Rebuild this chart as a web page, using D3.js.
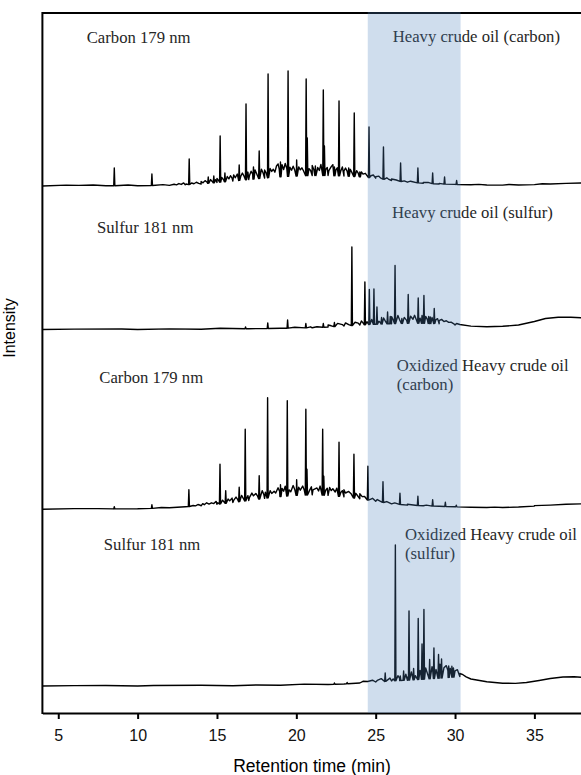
<!DOCTYPE html>
<html>
<head>
<meta charset="utf-8">
<script src="https://cdn.jsdelivr.net/npm/d3@7"></script>
<style>
body { margin: 0; background: #fff; }
</style>
</head>
<body>
<svg id="chart" width="581" height="775"></svg>
<script>
// retention time ticks (min) and highlighted window
var xTicks = [5, 10, 15, 20, 25, 30, 35];
var bandRange = [24.5, 30.35];

// --- trace 1: heavy crude oil, carbon 179 nm ---
// baseline drift [time, intensity]
var c1Base = [[4,0],[8,0.2],[10,0.3],[12,0.6],[13,1.2],[14,2],[15,3.5],[16,5],[17,6.5],[18,8],[19,9.3],[20,10],
  [21,10.5],[22,10.5],[23,10],[24,9.2],[25,7.8],[26,5.5],[27,3.8],[28,2.8],[29,2],[30,1.6],[31,1.2],[32,1],
  [33,0.9],[34,1],[35,1.4],[36,2],[37,2.6],[38,3]];
// peak apex [time, intensity]
var c1Peaks = [[8.53,18],[10.9,12],[13.25,27],[14.45,9],[14.8,10],[15.2,50],[15.5,13],[16.4,21],[16.83,82],
  [17.3,19],[17.66,35],[18.22,112],[19.0,24],[19.48,115],[20.02,26],[20.62,107],[20.69,48],[21.2,20],
  [21.7,96],[21.77,40],[22.4,19],[22.69,85],[23.3,18],[23.65,73],[24.0,14],[24.58,59],[25.49,39],
  [26.57,23],[27.66,18],[28.59,13],[29.34,9],[30.1,5.5]];
// small unresolved signal [time, height above baseline]
var c1Grass = [[5.5,0.8],[6.3,0.5],[7.2,0.8],[9.4,0.7],[11.6,0.8],[12.3,1],[12.45,0.3],[12.6,1.5],[12.75,0.5],
  [12.9,2],[13.05,0.8],[13.4,1.5],[13.55,0.6],[13.7,2],[13.85,0.8],[14.0,2.5],[14.12,1],[14.25,3],[14.38,1.2],
  [14.6,3.5],[14.7,1.5],[14.9,3],[15.0,4],[15.1,2],[15.3,4.5],[15.42,2],[15.65,5],[15.75,2.5],[15.85,5.5],
  [15.95,3],[16.05,6],[16.15,3],[16.28,6.5],[16.5,4],[16.6,7],[16.7,4],[16.95,7.5],[17.05,4],[17.15,8],
  [17.25,5],[17.4,9],[17.5,5],[17.8,9],[17.9,5.5],[18.0,8],[18.1,5],[18.35,9],[18.45,6],[18.55,8],[18.65,5],
  [18.75,11],[18.85,13],[18.92,8],[19.1,12],[19.2,7],[19.3,13],[19.4,8],[19.6,9],[19.7,6],[19.8,10],[19.9,6],
  [20.15,9],[20.25,6],[20.35,8],[20.45,5],[20.8,7],[20.9,5],[21.0,10],[21.1,6],[21.35,8],[21.45,5],[21.55,11],
  [21.85,6],[21.95,8],[22.05,5],[22.2,9],[22.3,11],[22.5,6],[22.58,8],[22.8,5],[22.9,9],[23.0,5],[23.1,8],
  [23.2,5],[23.4,7],[23.5,4],[23.8,6],[23.9,3.5],[24.1,5],[24.2,3],[24.35,4],[24.7,2],[24.85,3],[25.0,1.5],
  [25.2,2.5],[25.3,1],[25.7,2],[25.8,1],[26.0,1.5],[26.3,1],[26.8,1],[27.2,1.2],[28.0,0.8],[28.3,1],[29.0,0.6],
  [31.5,0.5],[33.4,0.6],[35.5,0.5]];

// --- trace 2: heavy crude oil, sulfur 181 nm ---
var c2Base = [[4,0],[10,0],[14,0.3],[17,0.8],[19,1.2],[21,1.7],[22,2.5],[23,3.5],[24,4.5],[25,5.2],[26,5.8],
  [27,6.2],[28,6.2],[29,5.8],[30,4.6],[31,3.4],[32,2.8],[33,3.2],[34,4.5],[35,8],[35.7,11],[36.5,12.3],
  [37.3,12.3],[38,11.7]];
var c2Peaks = [[16.8,2.5],[18.2,6.5],[19.45,9.5],[20.6,6],[21.7,6],[22.4,7],[23.5,82.5],[24.32,47.5],
  [24.6,40],[24.89,40.5],[25.08,22.5],[25.37,12],[25.75,17.5],[25.92,13],[26.22,64],[26.65,11],[27.05,35],
  [27.68,31.5],[27.92,14],[28.04,34],[28.34,13],[28.44,12.5],[28.69,21]];
var c2Grass = [[6,0.4],[9,0.5],[12,0.5],[15.2,0.7],[19.9,0.8],[20.9,1],[21.3,0.8],[22.0,2],[22.2,1],[22.6,3],
  [22.9,1.5],[23.1,3],[23.3,1],[23.7,3],[23.9,2],[24.1,4],[24.2,2],[24.45,3],[24.75,5],[25.2,3],[25.3,1.5],
  [25.5,6],[25.6,3],[26.0,7],[26.1,4],[26.4,8],[26.5,4],[26.8,6],[26.95,3],[27.2,7],[27.35,4],[27.45,8],
  [27.55,4],[27.8,5],[28.15,7],[28.25,4],[28.55,6],[28.8,4],[28.9,5],[29.0,3],[29.15,4.5],[29.3,2.5],
  [29.45,3.5],[29.6,2],[29.75,2.5],[29.9,1.2],[30.1,1.5],[30.3,0.8]];

// --- trace 3: oxidized heavy crude oil, carbon 179 nm ---
var c3Base = [[4,0],[10,0.5],[12,1.5],[13,2.5],[14,3.5],[15,5],[16,6.8],[17,8.8],[18,11],[19,12.8],[20,14],
  [21,14.5],[22,14],[23,12.5],[24,10.5],[25,8],[26,5.5],[27,4.2],[28,3.5],[29,3],[30,2.5],[31,2],[32,1.8],
  [33,1.8],[34,2.3],[35,3.2],[36,4.2],[37,5],[38,5.5]];
var c3Peaks = [[8.53,2.5],[10.9,4.5],[13.23,19.5],[15.19,45],[15.55,18.5],[16.4,22],[16.78,80],[17.66,33.5],
  [18.19,111.5],[19.0,24.5],[19.43,108.5],[20.02,29.5],[20.6,100],[20.67,40],[21.66,80],[21.73,33],
  [22.69,67],[23.63,55],[24.51,43],[25.46,27.5],[26.53,16],[27.66,13],[28.59,9.5],[29.39,7],[30.08,4.2]];
var c3Grass = [[6,0.5],[7.5,0.4],[11.5,0.6],[13.5,0.8],[13.65,0.3],[13.8,1.5],[13.95,0.6],[14.1,2],
  [14.2,0.8],[14.35,2.5],[14.5,1],[14.65,2],[14.8,1],[14.95,3],[15.05,1.5],[15.35,3.5],[15.45,1.5],[15.7,4],
  [15.8,2],[15.95,4.5],[16.05,2],[16.2,5],[16.3,2.5],[16.55,6],[16.65,3],[16.95,5],[17.05,3],[17.2,7],
  [17.3,4],[17.45,6],[17.55,3.5],[17.85,8],[17.95,4],[18.05,6],[18.35,7],[18.45,4],[18.6,6],[18.7,4],
  [18.85,9],[18.95,5],[19.1,8],[19.2,5],[19.3,10],[19.55,6],[19.65,4],[19.8,10],[19.9,6],[20.15,8],
  [20.25,5],[20.4,9],[20.5,5],[20.85,5],[20.95,8],[21.05,5],[21.3,7],[21.4,4],[21.5,9],[21.85,5],[21.95,7],
  [22.1,8],[22.2,5],[22.3,7],[22.45,4],[22.55,8],[22.8,4],[22.9,6],[23.0,7],[23.1,4],[23.3,6],[23.45,4],
  [23.75,5],[23.85,3],[24.0,5],[24.15,2.5],[24.3,3],[24.7,1.5],[24.8,2.5],[25.1,2],[25.25,1],[25.7,1.5],
  [26.2,1.2],[27.0,0.8],[28.2,0.8],[32.5,0.4],[35,0.5]];

// --- trace 4: oxidized heavy crude oil, sulfur 181 nm ---
var c4Base = [[4,0],[10,0],[16,0.3],[19,0.8],[22,1.5],[23,2],[24,3],[25,4],[26,5],[27,5.8],[28,6.8],[29,7.8],
  [29.8,8.8],[30.3,9.5],[31,7],[32,4.2],[33,2.8],[33.8,2.6],[34.5,3.5],[35.3,5.5],[36,7.5],[36.8,9],
  [37.5,9.2],[38,8.6]];
var c4Peaks = [[22.4,3],[23.2,3.5],[25.6,13],[26.24,141],[26.55,10],[26.76,15],[27.1,75],[27.39,17.5],
  [27.68,67.5],[27.92,42],[28.04,76.5],[28.4,26.5],[28.67,38],[28.96,31.5],[29.15,27],[29.6,20],[29.9,18]];
var c4Grass = [[6,0.4],[8,0.5],[11,0.4],[14,0.5],[17.5,0.5],[20.5,0.7],[24.2,1.5],[24.5,1],[24.8,2],
  [25.1,1.5],[25.35,3],[25.9,3],[26.1,2],[26.4,5],[26.5,2.5],[26.9,6],[27.0,3],[27.25,8],[27.5,4],[27.8,9],
  [27.85,5],[28.15,11],[28.25,6],[28.55,12],[28.6,7],[28.8,9],[29.05,14],[29.1,8],[29.3,10],[29.45,12],
  [29.55,7],[29.7,9],[29.8,11],[30.0,6],[30.15,7],[30.3,3],[30.5,2.5],[30.7,1]];

var detectorNames = ["Carbon 179 nm", "Sulfur 181 nm", "Carbon 179 nm", "Sulfur 181 nm"];
var sampleNames = [["Heavy crude oil (carbon)"], ["Heavy crude oil (sulfur)"],
  ["Oxidized Heavy crude oil", "(carbon)"], ["Oxidized Heavy crude oil", "(sulfur)"]];

// layout
var width = 581;
var height = 775;
var plotLeft = 42.4;
var plotTop = 13;
var axisY = 713;
var panelZero = [186, 329.5, 509.3, 686];
var detectorPos = [[86.7, 43.3], [97, 233], [99.3, 383], [103.8, 550]];
var samplePos = [[392.7, 41.7], [392, 218], [396.7, 371], [405, 540]];
var peakHalfWidth = 0.035;

var svg = d3.select("#chart");

var xScale = d3.scaleLinear().domain([4, 38]).range([plotLeft, 582]);

// join baseline, grass and peaks into one sorted trace
function tracePoints(base, peaks, grass) {
  var baseAt = d3.scaleLinear()
    .domain(base.map(function(d) { return d[0]; }))
    .range(base.map(function(d) { return d[1]; }))
    .clamp(true);
  var pts = base.slice();
  grass.forEach(function(d) {
    pts.push([d[0], baseAt(d[0]) + d[1]]);
  });
  peaks.forEach(function(d) {
    pts.push([d[0] - peakHalfWidth, baseAt(d[0] - peakHalfWidth)]);
    pts.push([d[0], d[1]]);
    pts.push([d[0] + peakHalfWidth, baseAt(d[0] + peakHalfWidth)]);
  });
  return pts.sort(function(a, b) { return a[0] - b[0]; });
}

var traces = [
  tracePoints(c1Base, c1Peaks, c1Grass),
  tracePoints(c2Base, c2Peaks, c2Grass),
  tracePoints(c3Base, c3Peaks, c3Grass),
  tracePoints(c4Base, c4Peaks, c4Grass)
];

traces.forEach(function(pts, i) {
  var yScale = d3.scaleLinear().domain([0, 100]).range([panelZero[i], panelZero[i] - 100]);
  var line = d3.line()
    .x(function(d) { return xScale(d[0]); })
    .y(function(d) { return yScale(d[1]); });
  svg.append("path")
    .datum(pts)
    .attr("d", line)
    .attr("fill", "none")
    .attr("stroke", "#000")
    .attr("stroke-width", 1.4)
    .attr("stroke-linejoin", "round");
});

// panel labels
var labels = svg.append("g")
  .attr("font-family", "'Liberation Serif', 'Times New Roman', serif")
  .attr("font-size", "16.7px")
  .attr("fill", "#262626");

detectorNames.forEach(function(name, i) {
  labels.append("text")
    .attr("x", detectorPos[i][0])
    .attr("y", detectorPos[i][1])
    .text(name);
});

sampleNames.forEach(function(lines, i) {
  lines.forEach(function(s, j) {
    labels.append("text")
      .attr("x", samplePos[i][0])
      .attr("y", samplePos[i][1] + j * 19)
      .text(s);
  });
});

// axes and frame
var xAxis = svg.append("g")
  .attr("transform", "translate(0," + axisY + ")")
  .call(d3.axisBottom(xScale).tickValues(xTicks).tickSize(6).tickSizeOuter(0).tickPadding(11));
xAxis.select(".domain").attr("stroke", "#000").attr("stroke-width", 2);
xAxis.selectAll(".tick line").attr("stroke", "#000").attr("stroke-width", 2);
xAxis.selectAll(".tick text")
  .attr("font-family", "'Liberation Sans', Arial, sans-serif")
  .attr("font-size", "16px")
  .attr("fill", "#111");

svg.append("line")
  .attr("x1", plotLeft).attr("x2", plotLeft)
  .attr("y1", plotTop - 1).attr("y2", axisY + 1)
  .attr("stroke", "#000").attr("stroke-width", 2);
svg.append("line")
  .attr("x1", plotLeft).attr("x2", width)
  .attr("y1", plotTop).attr("y2", plotTop)
  .attr("stroke", "#000").attr("stroke-width", 2);

svg.append("text")
  .attr("x", 312)
  .attr("y", 772)
  .attr("text-anchor", "middle")
  .attr("font-family", "'Liberation Sans', Arial, sans-serif")
  .attr("font-size", "17.5px")
  .text("Retention time (min)");

svg.append("text")
  .attr("transform", "translate(15,328) rotate(-90)")
  .attr("text-anchor", "middle")
  .attr("font-family", "'Liberation Sans', Arial, sans-serif")
  .attr("font-size", "16px")
  .text("Intensity");

// highlighted retention window, laid over the traces
svg.append("rect")
  .attr("x", xScale(bandRange[0]))
  .attr("y", plotTop - 1)
  .attr("width", xScale(bandRange[1]) - xScale(bandRange[0]))
  .attr("height", axisY - plotTop + 1)
  .attr("fill", "#4F81BD")
  .attr("fill-opacity", 0.27);
</script>
</body>
</html>
